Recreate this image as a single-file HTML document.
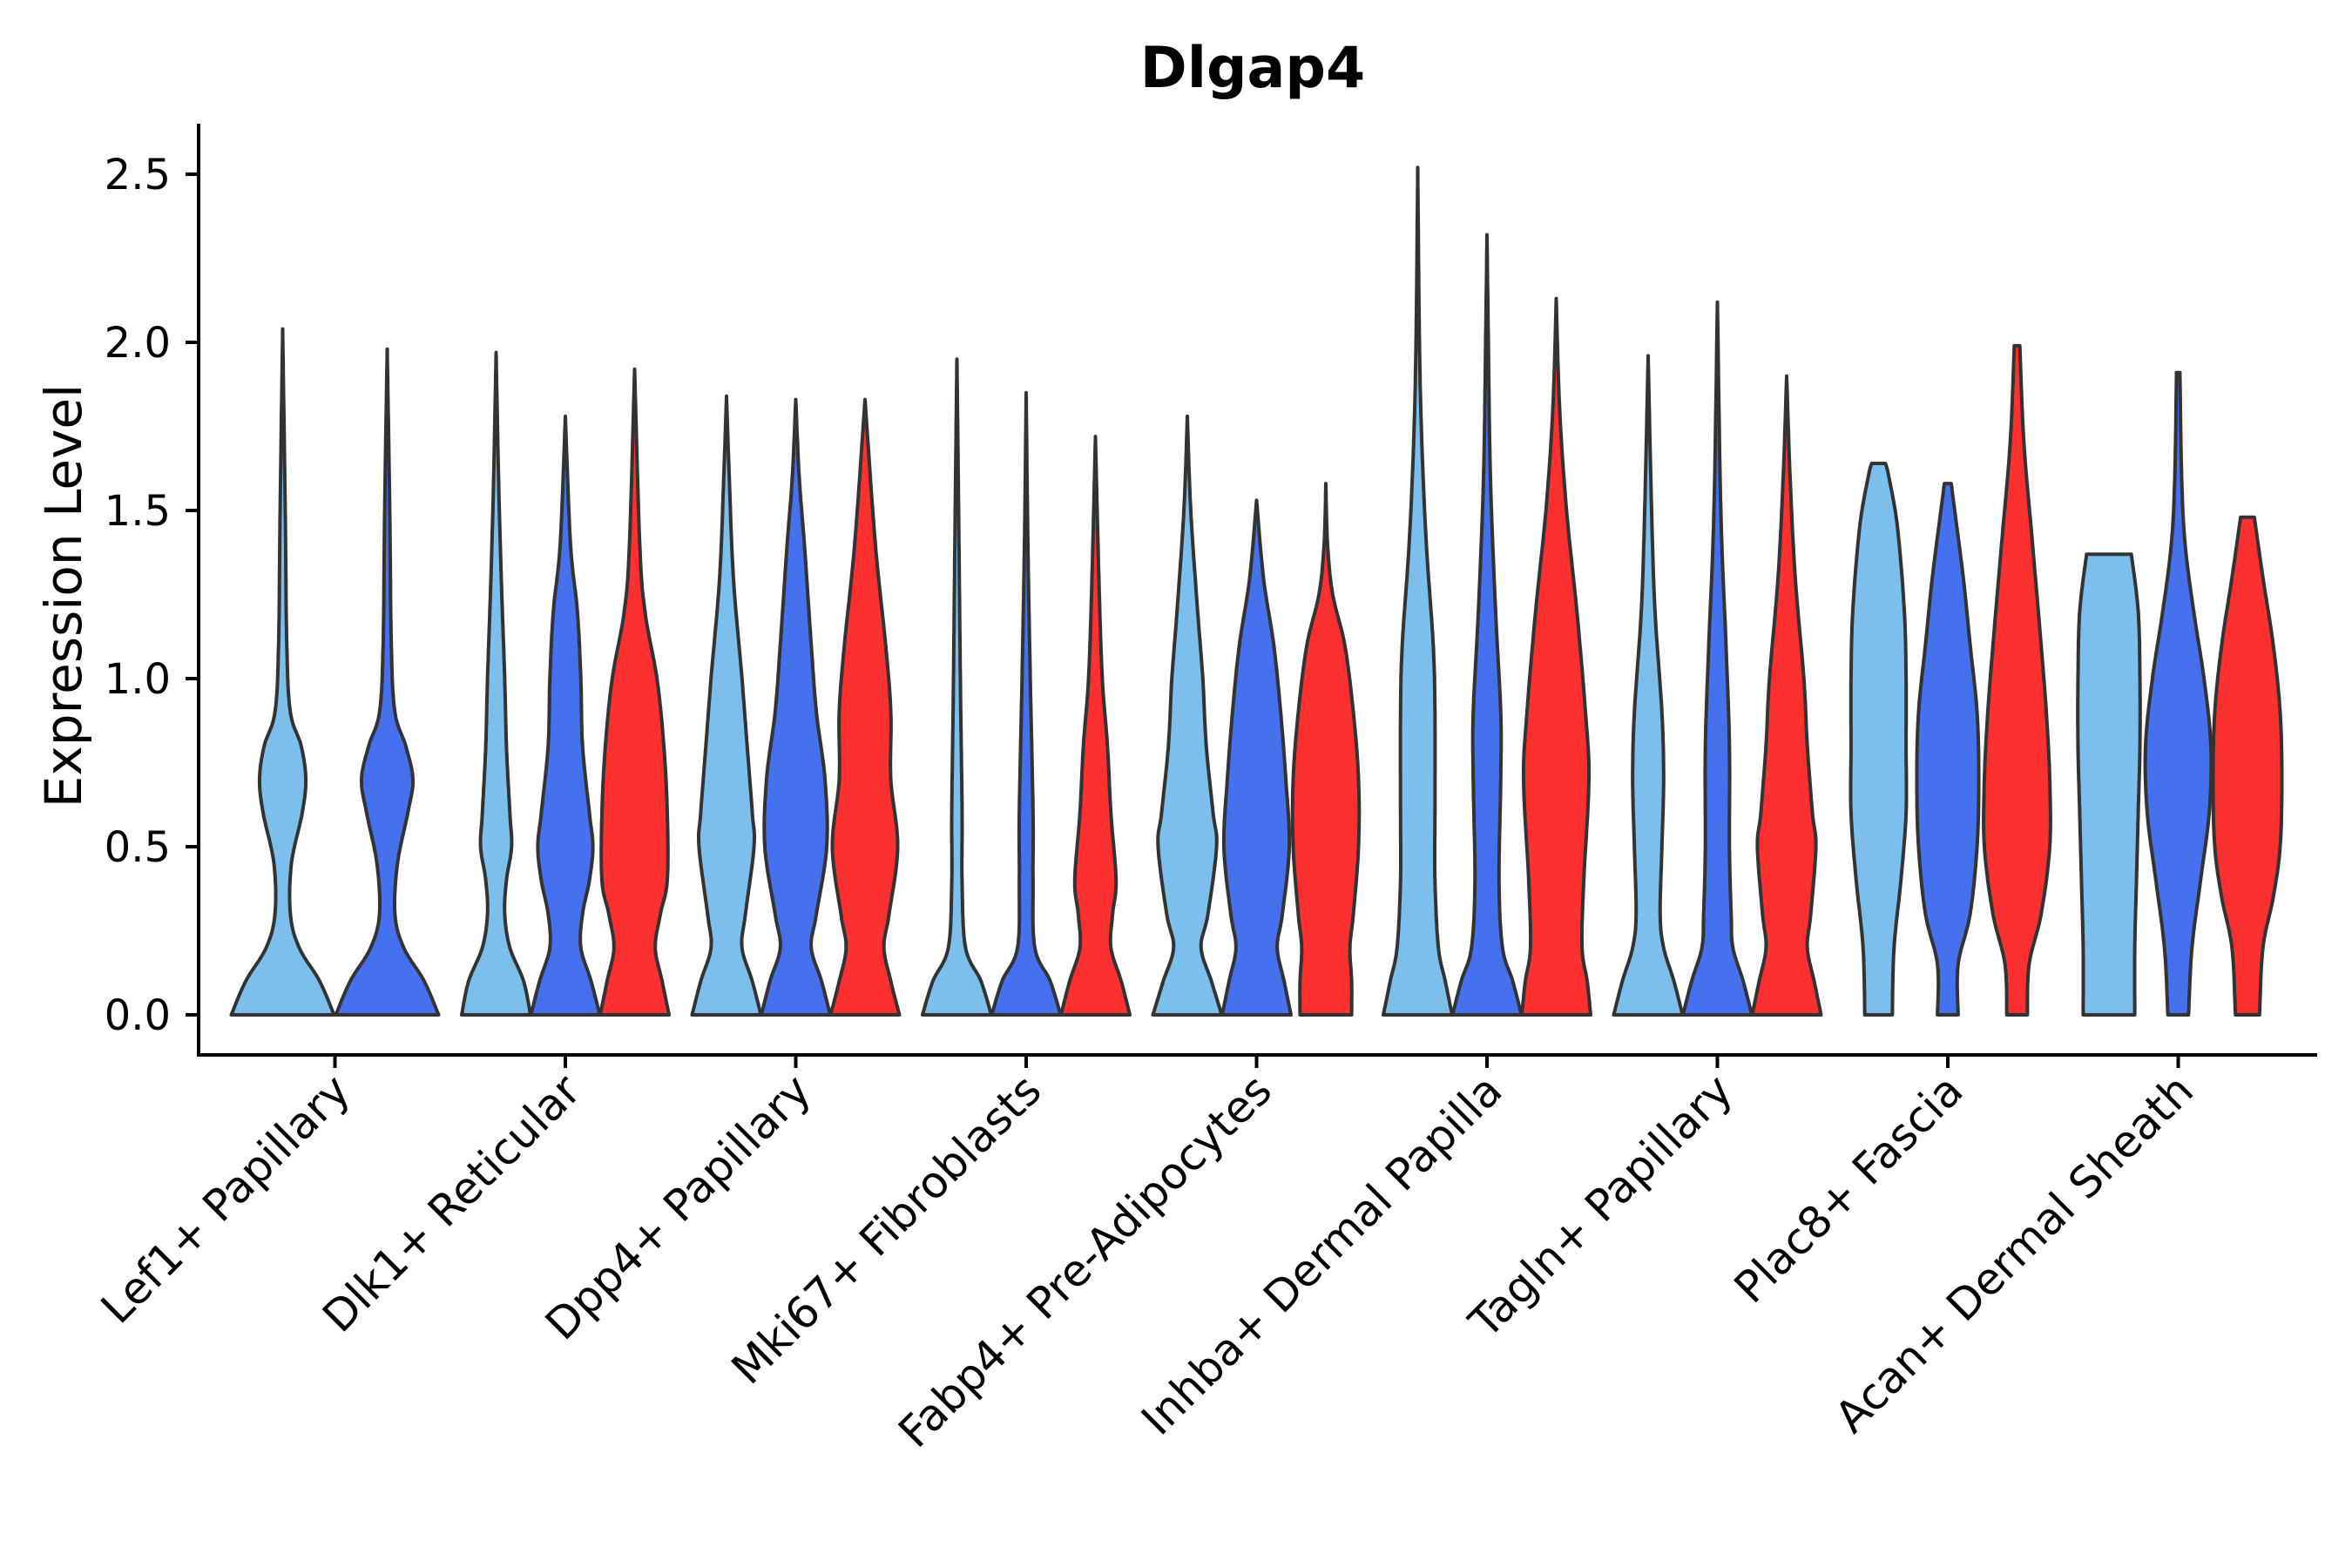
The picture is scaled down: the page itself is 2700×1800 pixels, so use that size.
<!DOCTYPE html>
<html><head><meta charset="utf-8"><style>
html,body{margin:0;padding:0;background:#fff;}
svg{display:block;font-family:"DejaVu Sans","Liberation Sans",sans-serif;}
</style></head><body>
<svg id="chart" width="2700" height="1800" viewBox="0 0 2700 1800" xmlns="http://www.w3.org/2000/svg">
<text x="1438" y="100" text-anchor="middle" font-size="65" font-weight="bold">Dlgap4</text>
<text transform="translate(93,684) rotate(-90)" text-anchor="middle" font-size="58">Expression Level</text>
<g id="violins"></g>
<g id="axes"></g>
</svg>
<script>
const categories = ["Lef1+ Papillary","Dlk1+ Reticular","Dpp4+ Papillary","Mki67+ Fibroblasts","Fabp4+ Pre-Adipocytes","Inhba+ Dermal Papilla","Tagln+ Papillary","Plac8+ Fascia","Acan+ Dermal Sheath"];
const groupNames = ["light","blue","red"];
const groupColors = ["#7DBFEC","#4570EE","#FF3030"];
const yTicks = [0,0.5,1.0,1.5,2.0,2.5];
const yTickLabels = ["0.0","0.5","1.0","1.5","2.0","2.5"];
// density profiles: [value, relative half-width]
const lef1Light = [[0,1],[0.1,0.72],[0.2,0.32],[0.3,0.15],[0.45,0.17],[0.6,0.38],[0.7,0.45],[0.8,0.36],[0.9,0.15],[1.1,0.08],[1.5,0.05],[2.04,0]];
const lef1Blue = [[0,1],[0.1,0.72],[0.2,0.32],[0.3,0.15],[0.45,0.2],[0.6,0.4],[0.7,0.5],[0.8,0.36],[0.9,0.15],[1.1,0.08],[1.5,0.05],[1.98,0]];
const dlk1Light = [[0,1],[0.1,0.8],[0.2,0.4],[0.3,0.25],[0.4,0.3],[0.5,0.45],[0.6,0.4],[0.8,0.3],[1.0,0.25],[1.3,0.15],[1.6,0.07],[1.97,0]];
const dlk1Blue = [[0,1],[0.1,0.75],[0.2,0.45],[0.3,0.5],[0.4,0.7],[0.5,0.8],[0.6,0.7],[0.8,0.5],[1.0,0.45],[1.2,0.35],[1.4,0.15],[1.78,0]];
const dlk1Red = [[0,1],[0.1,0.8],[0.2,0.6],[0.3,0.75],[0.4,0.95],[0.6,0.95],[0.8,0.85],[1.0,0.65],[1.2,0.3],[1.4,0.15],[1.92,0]];
const dpp4Light = [[0,1],[0.1,0.75],[0.2,0.45],[0.3,0.55],[0.5,0.8],[0.6,0.75],[0.8,0.6],[1.0,0.45],[1.3,0.2],[1.6,0.08],[1.84,0]];
const dpp4Blue = [[0,1],[0.1,0.75],[0.2,0.45],[0.3,0.6],[0.5,0.9],[0.7,0.85],[0.9,0.6],[1.1,0.45],[1.4,0.25],[1.6,0.1],[1.83,0]];
const dpp4Red = [[0,1],[0.1,0.75],[0.2,0.55],[0.3,0.7],[0.5,0.95],[0.7,0.75],[0.9,0.75],[1.1,0.6],[1.4,0.3],[1.83,0]];
const mki67Light = [[0,1],[0.1,0.7],[0.2,0.25],[0.4,0.15],[0.6,0.15],[1.0,0.1],[1.5,0.05],[1.95,0]];
const mki67Blue = [[0,1],[0.1,0.7],[0.2,0.25],[0.4,0.2],[0.6,0.2],[1.0,0.12],[1.4,0.05],[1.85,0]];
const mki67Red = [[0,1],[0.1,0.75],[0.2,0.45],[0.3,0.5],[0.4,0.6],[0.6,0.45],[0.8,0.35],[1.0,0.2],[1.3,0.1],[1.72,0]];
const fabp4Light = [[0,1],[0.1,0.7],[0.2,0.4],[0.3,0.6],[0.5,0.85],[0.6,0.75],[0.8,0.55],[1.0,0.45],[1.2,0.3],[1.5,0.1],[1.78,0]];
const fabp4Blue = [[0,1],[0.1,0.8],[0.2,0.6],[0.3,0.75],[0.5,0.95],[0.7,0.85],[0.9,0.7],[1.1,0.5],[1.3,0.2],[1.53,0]];
const fabp4Red = [[0,0.75],[0.1,0.75],[0.2,0.7],[0.3,0.8],[0.5,0.95],[0.7,0.95],[0.9,0.8],[1.1,0.55],[1.25,0.2],[1.4,0.05],[1.58,0]];
const inhbaLight = [[0,1],[0.1,0.8],[0.2,0.6],[0.4,0.5],[0.6,0.5],[0.9,0.5],[1.1,0.45],[1.4,0.25],[1.7,0.12],[2.0,0.05],[2.52,0]];
const inhbaBlue = [[0,1],[0.1,0.75],[0.2,0.45],[0.4,0.35],[0.7,0.4],[0.9,0.4],[1.2,0.25],[1.6,0.1],[2.0,0.04],[2.32,0]];
const inhbaRed = [[0,1],[0.1,0.9],[0.2,0.75],[0.4,0.8],[0.7,0.95],[0.9,0.85],[1.2,0.6],[1.5,0.3],[1.8,0.1],[2.13,0]];
const taglnLight = [[0,1],[0.1,0.75],[0.2,0.45],[0.3,0.35],[0.5,0.4],[0.7,0.45],[0.9,0.4],[1.2,0.2],[1.5,0.1],[1.96,0]];
const taglnBlue = [[0,1],[0.1,0.75],[0.2,0.45],[0.3,0.4],[0.5,0.35],[0.8,0.35],[1.1,0.25],[1.5,0.1],[2.12,0]];
const taglnRed = [[0,1],[0.1,0.8],[0.2,0.6],[0.3,0.7],[0.5,0.85],[0.6,0.75],[0.8,0.6],[1.0,0.5],[1.3,0.25],[1.6,0.1],[1.9,0]];
const plac8Light = [[0,0.4],[0.2,0.45],[0.4,0.65],[0.6,0.8],[0.8,0.8],[1.0,0.8],[1.2,0.75],[1.45,0.55],[1.6,0.3],[1.64,0.2]];
const plac8Blue = [[0,0.3],[0.15,0.3],[0.3,0.65],[0.5,0.85],[0.7,0.9],[0.9,0.85],[1.1,0.65],[1.3,0.45],[1.5,0.2],[1.58,0.1]];
const plac8Red = [[0,0.3],[0.15,0.35],[0.3,0.7],[0.5,0.95],[0.7,0.95],[0.9,0.85],[1.1,0.7],[1.4,0.45],[1.7,0.2],[1.99,0.08]];
const acanLight = [[0,0.75],[0.2,0.75],[0.4,0.8],[0.6,0.85],[0.8,0.9],[1.0,0.9],[1.2,0.85],[1.37,0.65]];
const acanBlue = [[0,0.3],[0.2,0.4],[0.4,0.65],[0.6,0.9],[0.8,0.95],[1.0,0.75],[1.2,0.45],[1.4,0.2],[1.6,0.1],[1.91,0.05]];
const acanRed = [[0,0.35],[0.2,0.45],[0.35,0.75],[0.5,0.95],[0.7,1.0],[0.9,0.95],[1.1,0.75],[1.3,0.45],[1.48,0.2]];
const violinSets = [
  [lef1Light,lef1Blue,null],
  [dlk1Light,dlk1Blue,dlk1Red],
  [dpp4Light,dpp4Blue,dpp4Red],
  [mki67Light,mki67Blue,mki67Red],
  [fabp4Light,fabp4Blue,fabp4Red],
  [inhbaLight,inhbaBlue,inhbaRed],
  [taglnLight,taglnBlue,taglnRed],
  [plac8Light,plac8Blue,plac8Red],
  [acanLight,acanBlue,acanRed]
];

const NS = "http://www.w3.org/2000/svg";
const axL = 228, axR = 2660, axB = 1211, axT = 142;
const y0 = 1165, yUnit = 386;
function yScale(v){ return y0 - v*yUnit; }
function xScale(i){ return 384.5 + i*264.5; }

function smoothPts(pts, n){
  const out=[];
  for(let i=0;i<pts.length-1;i++){
    const p0=pts[Math.max(0,i-1)], p1=pts[i], p2=pts[i+1], p3=pts[Math.min(pts.length-1,i+2)];
    for(let k=0;k<n;k++){
      const t=k/n, t2=t*t, t3=t2*t;
      const f=(a,b,c,d)=>0.5*((2*b)+(-a+c)*t+(2*a-5*b+4*c-d)*t2+(-a+3*b-3*c+d)*t3);
      out.push([f(p0[0],p1[0],p2[0],p3[0]), Math.max(0,f(p0[1],p1[1],p2[1],p3[1]))]);
    }
  }
  out.push(pts[pts.length-1]);
  return out;
}

const gV = document.getElementById('violins');
violinSets.forEach((set, ci) => {
  const present = set.map((d,gi)=>d?gi:-1).filter(g=>g>=0);
  const nP = present.length;
  const cx = xScale(ci);
  const slot = nP===2 ? 120 : 79.5;
  const half = nP===2 ? 59 : 39.5;
  present.forEach((gi, k) => {
    const data = set[gi];
    const vx = cx + (k - (nP-1)/2)*slot;
    const pts = smoothPts(data, 16);
    const right = pts.map(p=>[vx+p[1]*half, yScale(p[0])]);
    const left = pts.slice().reverse().map(p=>[vx-p[1]*half, yScale(p[0])]);
    const all = right.concat(left);
    const d = "M"+all.map(p=>p[0].toFixed(1)+","+p[1].toFixed(1)).join("L")+"Z";
    const path = document.createElementNS(NS,'path');
    path.setAttribute('d', d);
    path.setAttribute('fill', groupColors[gi]);
    path.setAttribute('stroke', '#333333');
    path.setAttribute('stroke-width', '4');
    path.setAttribute('stroke-linejoin', 'round');
    
    
    gV.appendChild(path);
  });
});

const gA = document.getElementById('axes');
function line(x1,y1,x2,y2,name){
  const l=document.createElementNS(NS,'line');
  l.setAttribute('x1',x1);l.setAttribute('y1',y1);l.setAttribute('x2',x2);l.setAttribute('y2',y2);
  l.setAttribute('stroke','#000');l.setAttribute('stroke-width','4');
  
  
  gA.appendChild(l);
}
line(axL, axT, axL, axB+2, 'y-axis-line');
line(axL-2, axB, axR, axB, 'x-axis-line');
yTicks.forEach((v,i)=>{
  const y=yScale(v);
  line(axL-15, y, axL, y, 'y-tick');
  const t=document.createElementNS(NS,'text');
  t.setAttribute('x', 196); t.setAttribute('y', y+17);
  t.setAttribute('text-anchor','end'); t.setAttribute('font-size','48');
  t.textContent = yTickLabels[i];
  
  
  gA.appendChild(t);
});
categories.forEach((c,i)=>{
  const x=xScale(i);
  line(x, axB, x, axB+15, 'x-tick');
  const t=document.createElementNS(NS,'text');
  t.setAttribute('transform', 'translate('+(x+20)+','+(axB+44)+') rotate(-45)');
  t.setAttribute('text-anchor','end'); t.setAttribute('font-size','50');
  t.textContent = c;
  
  
  gA.appendChild(t);
});
</script>
</body></html>
